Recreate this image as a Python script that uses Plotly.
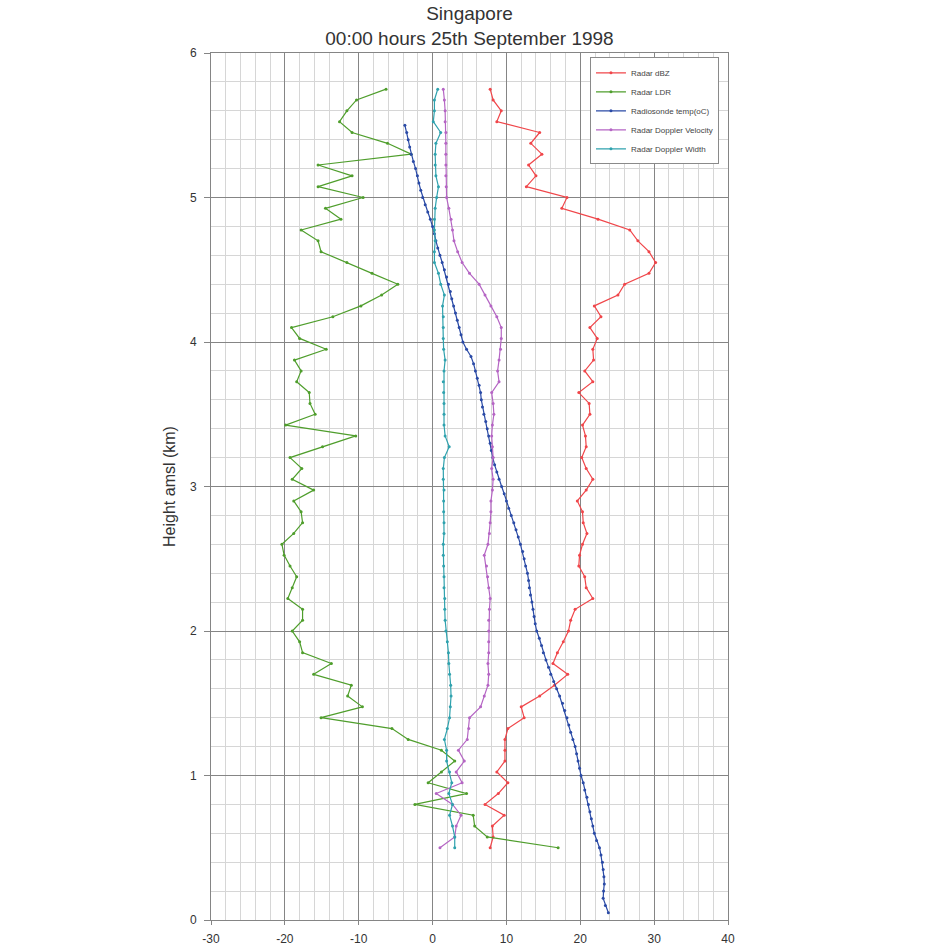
import plotly.graph_objects as go

# ---- data ----
RADAR_H = [0.5, 0.575, 0.65, 0.725, 0.8, 0.875, 0.95, 1.025, 1.1, 1.175,
           1.25, 1.325, 1.4, 1.475, 1.55, 1.625, 1.7, 1.775, 1.85, 1.925,
           2.0, 2.075, 2.15, 2.225, 2.3, 2.375, 2.45, 2.525, 2.6, 2.675,
           2.75, 2.825, 2.9, 2.975, 3.05, 3.125, 3.2, 3.275, 3.35, 3.425,
           3.5, 3.575, 3.65, 3.725, 3.8, 3.875, 3.95, 4.025, 4.1, 4.175,
           4.25, 4.325, 4.4, 4.475, 4.55, 4.625, 4.7, 4.775, 4.85, 4.925,
           5.0, 5.075, 5.15, 5.225, 5.3, 5.375, 5.45, 5.525, 5.6, 5.675, 5.75]

DBZ = [7.8, 8.2, 8.1, 9.7, 7.1, 8.9, 10.2, 8.7, 9.8, 9.8,
       9.8, 10.2, 12.4, 12.0, 14.5, 16.5, 18.3, 16.3, 16.9, 17.7,
       18.4, 18.7, 19.3, 21.7, 20.8, 20.6, 19.8, 19.9, 20.3, 20.9,
       20.4, 20.3, 19.6, 20.8, 21.7, 20.8, 20.2, 20.8, 20.7, 20.3,
       21.3, 21.2, 19.8, 21.7, 20.6, 21.8, 21.7, 22.3, 21.3, 22.8,
       21.9, 25.1, 26.0, 29.3, 30.2, 29.3, 27.8, 26.7, 22.4, 17.5,
       18.2, 12.7, 14.0, 13.0, 14.8, 13.3, 14.5, 8.7, 9.3, 8.2, 7.8]

LDR = [17.0, 7.4, 5.7, 5.5, -2.4, 4.6, -0.6, 1.2, 3.0, 1.2,
       -3.3, -5.5, -15.1, -9.5, -11.5, -11.0, -16.1, -13.7, -17.6, -18.0,
       -19.0, -17.6, -17.6, -19.6, -19.0, -18.4, -19.3, -20.1, -20.4, -18.8,
       -17.6, -17.8, -18.8, -16.1, -19.0, -17.7, -19.3, -14.9, -10.4, -19.9,
       -15.9, -16.6, -16.7, -18.4, -17.8, -18.7, -14.4, -18.0, -19.1, -13.5,
       -9.7, -6.9, -4.7, -8.2, -11.6, -15.1, -15.5, -17.8, -12.4, -14.5,
       -9.4, -15.5, -10.9, -15.5, -2.9, -6.1, -10.9, -12.6, -11.6, -10.3, -6.3]

VELOCITY = [1.0, 3.0, 3.2, 3.85, 2.7, 0.5, 4.0, 3.2, 4.3, 3.5,
            4.7, 4.9, 5.0, 6.5, 7.0, 7.5, 7.6, 7.5, 7.6, 7.6,
            7.6, 7.6, 7.7, 7.8, 7.6, 7.45, 7.3, 7.0, 7.5, 7.7,
            7.8, 7.9, 7.9, 8.1, 8.2, 8.0, 8.2, 8.1, 8.0, 8.1,
            8.3, 8.2, 8.0, 9.0, 8.8, 9.0, 9.2, 9.3, 9.3, 8.7,
            7.9, 7.1, 6.3, 5.0, 4.0, 3.4, 2.9, 2.7, 2.5, 2.2,
            1.9, 1.85, 1.8, 1.8, 1.8, 1.8, 1.8, 1.7, 1.7, 1.6, 1.45]

WIDTH = [3.0, 3.0, 2.7, 2.3, 2.7, 2.2, 2.6, 2.3, 1.9, 1.9,
         1.6, 2.0, 2.3, 2.4, 2.5, 2.45, 2.3, 2.2, 2.15, 2.0,
         1.8, 1.7, 1.65, 1.65, 1.55, 1.55, 1.5, 1.45, 1.45, 1.55,
         1.55, 1.5, 1.5, 1.55, 1.45, 1.45, 1.6, 2.25, 1.7, 1.55,
         1.55, 1.55, 1.5, 1.45, 1.55, 1.7, 1.5, 1.45, 1.45, 1.45,
         1.35, 1.6, 1.1, 0.8, 0.25, 0.25, 0.35, 0.25, 0.25, 0.35,
         0.55, 0.8, 0.45, 0.35, 0.35, 0.45, 1.1, 0.1, 0.25, 0.25, 0.7]

TEMP_H = [0.05, 0.10, 0.15, 0.20, 0.25, 0.30, 0.35, 0.40, 0.45, 0.50,
          0.55, 0.60, 0.65, 0.70, 0.75, 0.80, 0.85, 0.90, 0.95, 1.00,
          1.05, 1.10, 1.15, 1.20, 1.25, 1.30, 1.35, 1.40, 1.45, 1.50,
          1.55, 1.60, 1.65, 1.70, 1.75, 1.80, 1.85, 1.90, 1.95, 2.00,
          2.05, 2.10, 2.15, 2.20, 2.25, 2.30, 2.35, 2.40, 2.45, 2.50,
          2.55, 2.60, 2.65, 2.70, 2.75, 2.80, 2.85, 2.90, 2.95, 3.00,
          3.05, 3.10, 3.15, 3.20, 3.25, 3.30, 3.35, 3.40, 3.45, 3.50,
          3.55, 3.60, 3.65, 3.70, 3.75, 3.80, 3.85, 3.90, 3.95, 4.00,
          4.05, 4.10, 4.15, 4.20, 4.25, 4.30, 4.35, 4.40, 4.45, 4.50,
          4.55, 4.60, 4.65, 4.70, 4.75, 4.80, 4.85, 4.90, 4.95, 5.00,
          5.05, 5.10, 5.15, 5.20, 5.25, 5.30, 5.35, 5.40, 5.45, 5.50]

TEMP = [23.8, 23.4, 23.1, 23.15, 23.25, 23.2, 23.1, 23.0, 22.8, 22.6,
        22.2, 21.9, 21.7, 21.5, 21.3, 21.1, 20.9, 20.6, 20.4, 20.1,
        19.9, 19.7, 19.5, 19.3, 19.0, 18.7, 18.45, 18.2, 17.9, 17.6,
        17.2, 16.8, 16.4, 16.0, 15.7, 15.35, 15.0, 14.75, 14.45, 14.1,
        13.9, 13.75, 13.6, 13.45, 13.25, 13.1, 13.0, 12.85, 12.6, 12.4,
        12.2, 11.9, 11.6, 11.3, 11.0, 10.65, 10.3, 10.0, 9.7, 9.35,
        9.0, 8.7, 8.4, 8.15, 7.95, 7.8, 7.6, 7.4, 7.2, 6.95,
        6.75, 6.6, 6.5, 6.3, 6.05, 5.8, 5.55, 5.2, 4.6, 4.1,
        3.85, 3.6, 3.35, 3.1, 2.85, 2.6, 2.4, 2.15, 1.9, 1.6,
        1.3, 1.0, 0.7, 0.45, 0.25, 0.0, -0.3, -0.65, -1.0, -1.35,
        -1.6, -1.85, -2.05, -2.3, -2.6, -2.9, -3.1, -3.3, -3.5, -3.75]

X_TICKS = [-30, -20, -10, 0, 10, 20, 30, 40]
Y_TICKS = [0, 1, 2, 3, 4, 5, 6]

SERIES = [
    ("Radar dBZ", DBZ, RADAR_H, "#f0464a"),
    ("Radar LDR", LDR, RADAR_H, "#4f9e2c"),
    ("Radiosonde temp(oC)", TEMP, TEMP_H, "#2a4aa6"),
    ("Radar Doppler Velocity", VELOCITY, RADAR_H, "#b565c4"),
    ("Radar Doppler Width", WIDTH, RADAR_H, "#2fa2ae"),
]

FONT = "Liberation Sans, Arial, Helvetica, sans-serif"

fig = go.Figure()
for name, xs, hs, col in SERIES:
    fig.add_trace(go.Scatter(
        x=xs, y=hs, name=name, mode="lines+markers",
        line=dict(color=col, width=1.2),
        marker=dict(color=col, size=3),
    ))

fig.update_layout(
    width=946, height=945,
    margin=dict(l=211, r=218, t=53, b=25, autoexpand=False),
    paper_bgcolor="white", plot_bgcolor="white",
    font=dict(family=FONT, color="#333333"),
    title=dict(text="Singapore<br>00:00 hours 25th September 1998",
               x=0.5, xref="paper", xanchor="center",
               y=1 - 20 / 945, yref="container", yanchor="middle",
               font=dict(size=19, color="#333333", family=FONT)),
    showlegend=True,
    legend=dict(x=0.733, y=0.995, xanchor="left", yanchor="top",
                bgcolor="white", bordercolor="#8a8a8a", borderwidth=1,
                font=dict(size=8, color="#444444", family=FONT),
                tracegroupgap=0, itemwidth=30),
)

fig.update_xaxes(
    range=[-30, 40], tickvals=X_TICKS, ticktext=[str(v) for v in X_TICKS],
    automargin=False,
    showgrid=True, gridcolor="#858585", gridwidth=1,
    minor=dict(dtick=2, tick0=0, showgrid=True, gridcolor="#d6d6d6", gridwidth=1),
    zeroline=False, showline=True, linecolor="#858585", mirror=True,
    ticks="outside", ticklen=4, tickcolor="#858585",
    tickfont=dict(size=12, color="#333333"), ticklabelstandoff=4,
)
fig.update_yaxes(
    range=[0, 6], tickvals=Y_TICKS, ticktext=[str(v) for v in Y_TICKS],
    automargin=False,
    showgrid=True, gridcolor="#858585", gridwidth=1,
    minor=dict(dtick=0.2, tick0=0, showgrid=True, gridcolor="#d6d6d6", gridwidth=1),
    zeroline=False, showline=True, linecolor="#858585", mirror=True,
    ticks="outside", ticklen=6, tickcolor="#858585",
    tickfont=dict(size=12, color="#333333"), ticklabelstandoff=5,
    title=dict(text="Height amsl (km)", font=dict(size=16, color="#333333"),
               standoff=10),
)

fig.write_html("out.html")
